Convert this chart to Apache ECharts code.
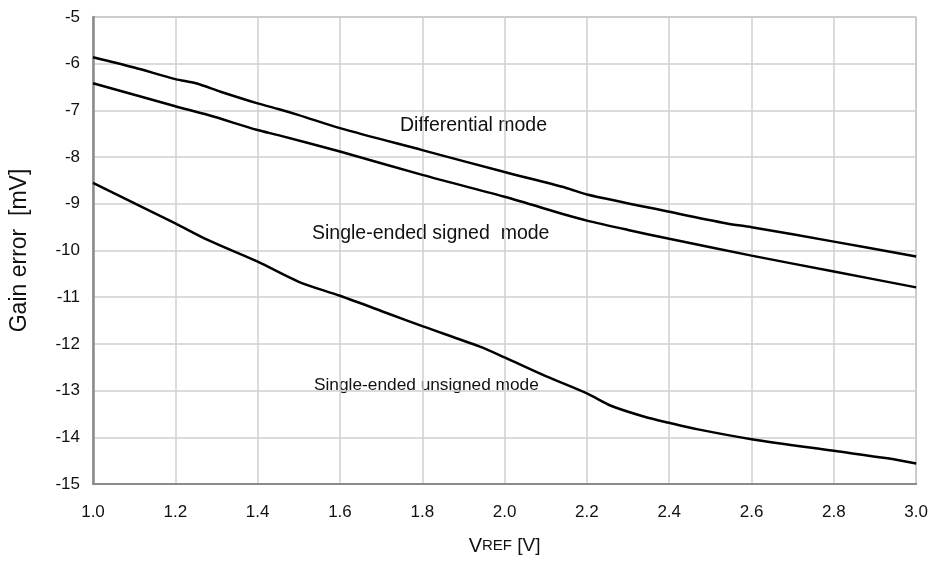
<!DOCTYPE html>
<html>
<head>
<meta charset="utf-8">
<script src="https://cdn.jsdelivr.net/npm/echarts@6/dist/echarts.min.js"></script>
<style>
  html, body { margin: 0; padding: 0; background: #fff; }
  #chart { width: 931px; height: 577px; }
</style>
</head>
<body>
<div id="chart"></div>
<script>
// data (x = VREF in V, y = gain error in mV)
const xTicks = ['1.0', '1.2', '1.4', '1.6', '1.8', '2.0', '2.2', '2.4', '2.6', '2.8', '3.0'];
const yTicks = [-5, -6, -7, -8, -9, -10, -11, -12, -13, -14, -15];

const diffX = [1.0, 1.1, 1.2, 1.25, 1.31, 1.4, 1.45, 1.5, 1.6, 1.8, 2.0, 2.15, 2.2, 2.4, 2.54, 2.6, 2.8, 3.0];
const diffY = [-5.86, -6.08, -6.33, -6.42, -6.6, -6.85, -6.97, -7.1, -7.38, -7.85, -8.32, -8.66, -8.8, -9.17, -9.42, -9.5, -9.81, -10.13];

const signedX = [1.0, 1.2, 1.28, 1.4, 1.45, 1.6, 1.8, 2.0, 2.15, 2.2, 2.3, 2.4, 2.6, 2.8, 3.0];
const signedY = [-6.42, -6.91, -7.1, -7.42, -7.53, -7.88, -8.38, -8.85, -9.24, -9.36, -9.56, -9.75, -10.11, -10.45, -10.79];

const unsignedX = [1.0, 1.2, 1.28, 1.4, 1.5, 1.6, 1.72, 1.8, 1.94, 2.0, 2.1, 2.2, 2.26, 2.34, 2.4, 2.47, 2.6, 2.8, 2.93, 3.0];
const unsignedY = [-8.55, -9.42, -9.78, -10.24, -10.67, -10.97, -11.36, -11.62, -12.06, -12.29, -12.69, -13.06, -13.33, -13.56, -13.69, -13.83, -14.04, -14.29, -14.45, -14.56];

const labels = ['Differential mode', 'Single-ended signed  mode', 'Single-ended unsigned mode'];

function pairs(xs, ys) {
  return xs.map((x, i) => [x, ys[i]]);
}

const font = "'Liberation Sans', Arial, sans-serif";
let myChart = echarts.init(document.getElementById('chart'));

myChart.setOption({
  animation: false,
  grid: {
    left: 93, right: 14, top: 17, bottom: 93,
    show: true,
    borderColor: '#8a8a8a',
    borderWidth: 1
  },
  xAxis: {
    type: 'value',
    min: 1.0,
    max: 3.0,
    interval: 0.2,
    name: '{v|V}{r|REF} [V]',
    nameLocation: 'middle',
    nameGap: 52,
    nameTextStyle: {
      color: '#111',
      fontFamily: font,
      fontSize: 19,
      rich: {
        v: { fontSize: 20, fontFamily: font, color: '#111' },
        r: { fontSize: 15, fontFamily: font, color: '#111' }
      }
    },
    axisLine: { lineStyle: { color: '#8a8a8a', width: 2 } },
    axisTick: { show: false },
    axisLabel: {
      color: '#111',
      fontFamily: font,
      fontSize: 17,
      margin: 20,
      formatter: v => xTicks[Math.round((v - 1) / 0.2)]
    },
    splitLine: { lineStyle: { color: '#cfcfcf', width: 1.5 } }
  },
  yAxis: {
    type: 'value',
    min: -15,
    max: -5,
    interval: 1,
    name: 'Gain error  [mV]',
    nameLocation: 'middle',
    nameGap: 62,
    nameTextStyle: { color: '#111', fontFamily: font, fontSize: 23 },
    axisLine: { show: true, lineStyle: { color: '#8a8a8a', width: 2.5 } },
    axisTick: { show: false },
    axisLabel: {
      color: '#111',
      fontFamily: font,
      fontSize: 17,
      margin: 13,
      formatter: v => String(yTicks[Math.round(-5 - v)])
    },
    splitLine: { lineStyle: { color: '#cfcfcf', width: 1.5 } }
  },
  series: [
    {
      name: labels[0],
      type: 'line',
      data: pairs(diffX, diffY),
      smooth: 0.3,
      symbol: 'none',
      lineStyle: { color: '#000', width: 2.5 }
    },
    {
      name: labels[1],
      type: 'line',
      data: pairs(signedX, signedY),
      smooth: 0.3,
      symbol: 'none',
      lineStyle: { color: '#000', width: 2.5 }
    },
    {
      name: labels[2],
      type: 'line',
      data: pairs(unsignedX, unsignedY),
      smooth: 0.3,
      symbol: 'none',
      lineStyle: { color: '#000', width: 2.5 }
    }
  ],
  graphic: [
    {
      type: 'text', left: 400, top: 116,
      style: { text: labels[0], fill: '#111', font: '19.5px ' + font }
    },
    {
      type: 'text', left: 312, top: 224,
      style: { text: labels[1], fill: '#111', font: '19.5px ' + font }
    },
    {
      type: 'text', left: 314, top: 377,
      style: { text: labels[2], fill: '#111', font: '17.3px ' + font }
    }
  ]
});
</script>
</body>
</html>
